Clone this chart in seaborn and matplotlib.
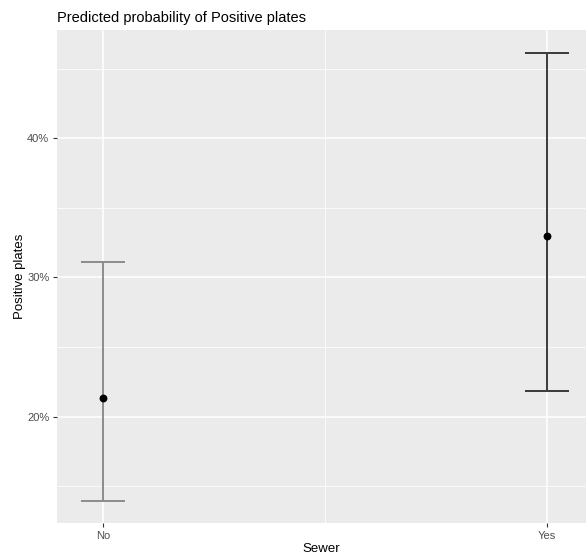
import numpy as np
import matplotlib
matplotlib.use("Agg")
import matplotlib.pyplot as plt
import seaborn as sns
from matplotlib.ticker import PercentFormatter, MultipleLocator

sewer = ["No", "Yes"]
predicted = [0.2136, 0.3297]
conf_low = [0.1397, 0.2185]
conf_high = [0.3112, 0.4615]
bar_colors = ["#8c8c8c", "#3a3a3a"]

sns.set_theme(style="darkgrid", rc={
    "axes.facecolor": "#EBEBEB",
    "grid.color": "white",
    "axes.edgecolor": "none",
    "xtick.bottom": True,
    "ytick.left": True,
    "xtick.color": "#333333",
    "ytick.color": "#333333",
    "xtick.major.size": 3,
    "ytick.major.size": 3,
})
plt.rcParams["font.family"] = ["Liberation Sans", "DejaVu Sans"]

fig = plt.figure(figsize=(5.86, 5.6), dpi=100)
ax = fig.add_axes([57 / 586, 37 / 560, 1 - 57 / 586, 493 / 560])

for i, name in enumerate(sewer):
    ax.errorbar([name], [predicted[i]],
                yerr=[[predicted[i] - conf_low[i]], [conf_high[i] - predicted[i]]],
                fmt="none", ecolor=bar_colors[i], elinewidth=1.4, capsize=16,
                capthick=1.4, zorder=2)

sns.scatterplot(x=sewer, y=predicted, color="black", s=32, edgecolor="black",
                linewidth=0, ax=ax, zorder=3)

ax.set_xlim(-0.104, 1.088)
ax.set_ylim(0.1236, 0.4778)
ax.yaxis.set_major_locator(MultipleLocator(0.10))
ax.yaxis.set_minor_locator(MultipleLocator(0.05))
ax.yaxis.set_major_formatter(PercentFormatter(xmax=1, decimals=0))
ax.set_xticks([0, 1])
ax.set_xticks([0.5], minor=True)
ax.grid(which="major", color="white", linewidth=1.1)
ax.grid(which="minor", color="white", linewidth=0.55)
ax.tick_params(axis="both", which="major", labelsize=8, labelcolor="#4d4d4d",
               color="#333333", width=0.8, pad=2.5)
ax.tick_params(axis="both", which="minor", length=0)

ax.set_xlabel("Sewer", fontsize=9.5, color="black", labelpad=2)
ax.set_ylabel("Positive plates", fontsize=9.5, color="black", labelpad=1)
ax.set_title("Predicted probability of Positive plates", fontsize=10.5,
             loc="left", pad=6, color="black")

fig.savefig("out.png", dpi=100)
